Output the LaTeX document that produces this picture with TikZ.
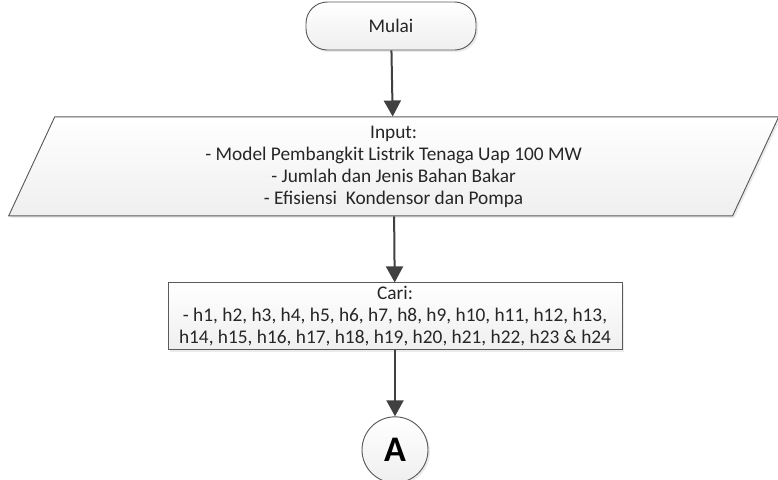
\documentclass[tikz,border=0pt]{standalone}
\usepackage{fontspec}
\setmainfont{Carlito}
\usetikzlibrary{arrows.meta,positioning,shapes.geometric,shadows}
\definecolor{Edge}{HTML}{5A5A5A}
\definecolor{Ink}{HTML}{404040}
\definecolor{Fade}{HTML}{EFEFEF}

\begin{document}
\begin{tikzpicture}[x=0.75pt,y=-0.75pt,node distance=49.5pt,>=Triangle,
    box/.style={draw=Edge,line width=0.7pt,top color=white,bottom color=Fade,
      drop shadow={shadow xshift=1.5pt,shadow yshift=-1.5pt,fill=black!8,opacity=1},
      align=center,text=black!85,font=\fontsize{14.5}{16.5}\selectfont},
    terminal/.style={box,rounded corners=16pt,minimum width=127.5pt,minimum height=36pt},
    io/.style={box,trapezium,trapezium left angle=63,trapezium right angle=117,
      trapezium stretches body=true,minimum width=577.5pt,minimum height=74.25pt},
    process/.style={box,rectangle,minimum width=340.5pt,minimum height=50.25pt,inner sep=2pt},
    connector/.style={box,circle,minimum size=49.5pt,inner sep=0pt,
      font=\fontsize{27}{27}\selectfont\bfseries,text=black},
    flow/.style={->,Ink,line width=1.5pt,arrows={-Triangle[length=12pt,width=12.75pt]}}]
    \useasboundingbox (0,0) rectangle (778,479);
    \node[terminal] (mulai) at (391,26) {Mulai};
    \node[io,below=of mulai,xshift=2pt] (input) {Input:\\- Model Pembangkit Listrik Tenaga Uap 100 MW\\- Jumlah dan Jenis Bahan Bakar\\- Efisiensi~ Kondensor dan Pompa};
    \node[process,below=of input,xshift=1pt] (cari) {Cari:\\- h1, h2, h3, h4, h5, h6, h7, h8, h9, h10, h11, h12, h13,\\h14, h15, h16, h17, h18, h19, h20, h21, h22, h23 \& h24};
    \node[connector,below=of cari] (a) {A};
    \foreach \u/\v in {mulai/input,input/cari,cari/a}\draw[flow] (\u)--(\v);
  \end{tikzpicture}
\end{document}
